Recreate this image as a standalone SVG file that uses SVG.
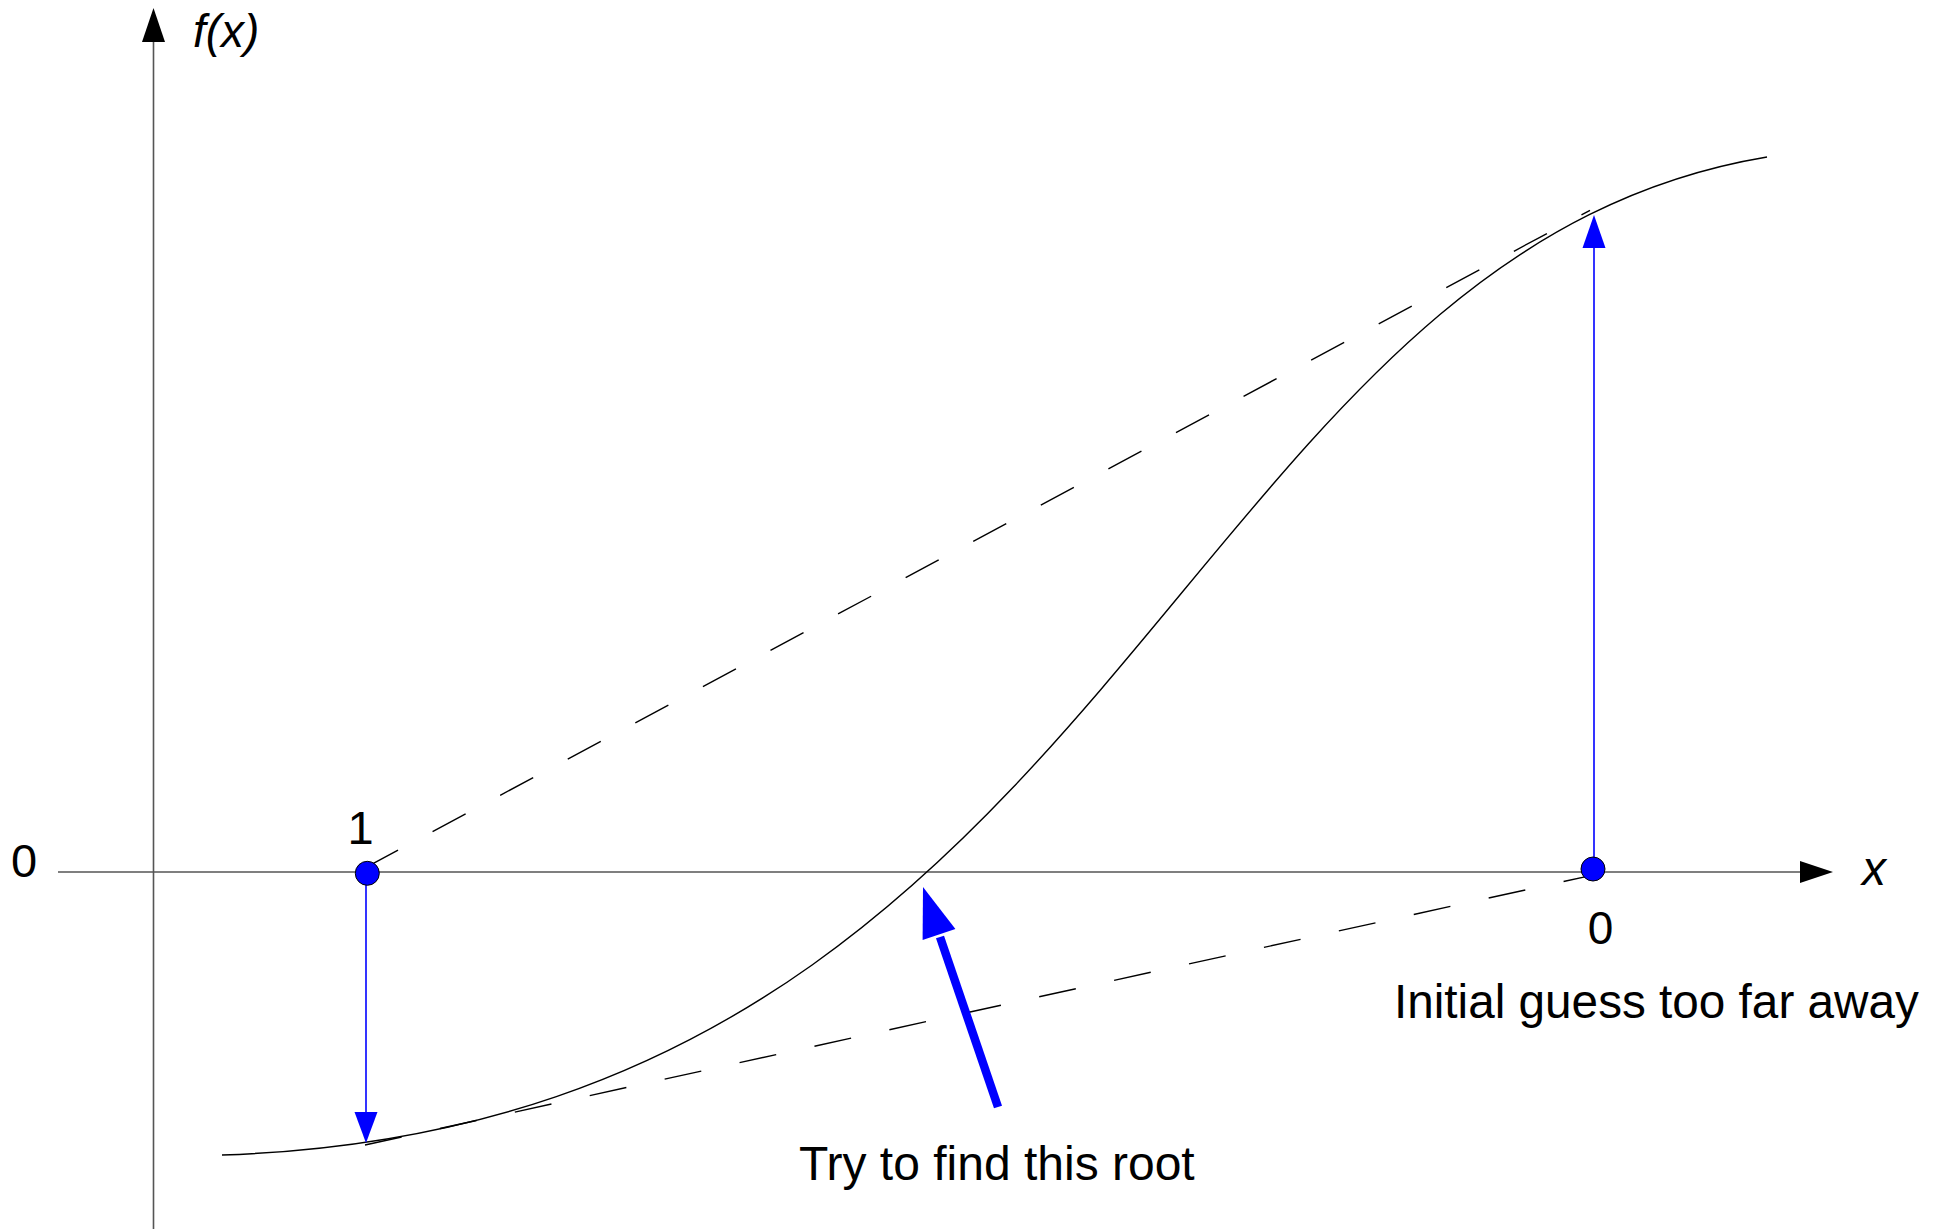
<svg xmlns="http://www.w3.org/2000/svg" width="1941" height="1229" viewBox="0 0 1941 1229">
<style>
.axis{stroke:#555;stroke-width:1.6;fill:none}
.curve{stroke:#000;stroke-width:1.4;fill:none}
.tan{stroke:#000;stroke-width:1.4;fill:none;stroke-dasharray:37.5 39.2}
.blue{stroke:#0000ff;stroke-width:1.6;fill:none}
.head{fill:#0000ff;stroke:none}
.pt{fill:#0000ff;stroke:#000;stroke-width:1}
text{font-family:"Liberation Sans",Arial,sans-serif;fill:#000}
.it{font-style:italic}
</style>
<rect width="1941" height="1229" fill="#fff"/>
<g id="axes">
<line class="axis" x1="153.5" y1="1229" x2="153.5" y2="40"/>
<polygon points="142,42 165,42 153.5,8" fill="#000"/>
<line class="axis" x1="58" y1="872" x2="1802" y2="872"/>
<polygon points="1800,861 1833,872 1800,883" fill="#000"/>
<text class="it" x="193" y="47" font-size="46">f(x)</text>
<text class="it" x="1862" y="885" font-size="48">x</text>
<text x="11" y="877" font-size="47">0</text>
</g>
<g id="curve">
<path class="curve" d="M222,1155 C1122,1125 1167,257 1767,157"/>
</g>
<g id="connectors">
<line class="tan" x1="365" y1="867.9" x2="1590" y2="210.4"/>
<line class="tan" x1="365" y1="1145" x2="1586" y2="876.6"/>
<line class="blue" x1="366" y1="880" x2="366" y2="1114"/>
<polygon class="head" points="354.5,1112 377.5,1112 366,1143"/>
<line class="blue" x1="1594" y1="862" x2="1594" y2="246"/>
<polygon class="head" points="1582.5,248 1605.5,248 1594,215"/>
<line x1="998" y1="1107" x2="940" y2="937" stroke="#0000ff" stroke-width="8.5"/>
<polygon class="head" points="923,887 922.6,940 955.4,929"/>
</g>
<g id="point-1">
<circle class="pt" cx="367.3" cy="873.3" r="12"/>
<text x="347.5" y="844" font-size="47">1</text>
</g>
<g id="point-0">
<circle class="pt" cx="1593" cy="869" r="12"/>
<text x="1600.5" y="944" font-size="46" text-anchor="middle">0</text>
</g>
<g id="labels">
<text x="1394" y="1018" font-size="47.7">Initial guess too far away</text>
<text x="799" y="1180" font-size="48">Try to find this root</text>
</g>
</svg>
